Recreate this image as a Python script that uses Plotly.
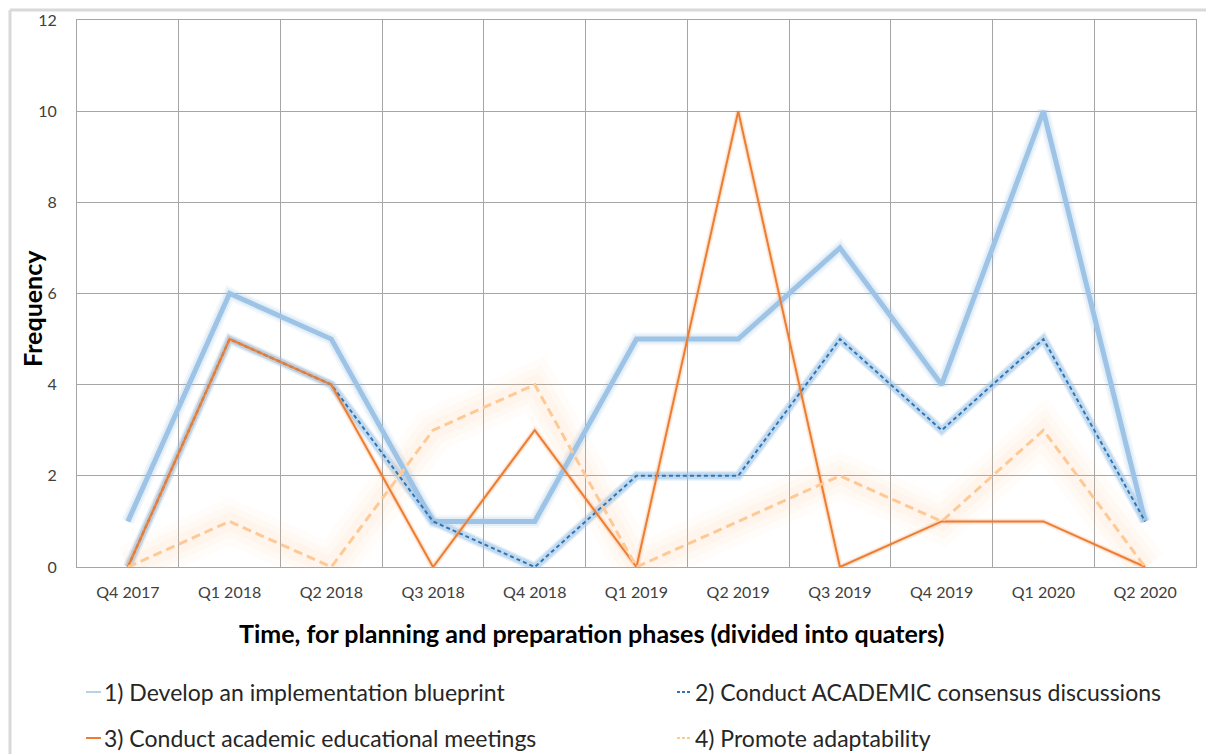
import plotly.graph_objects as go

# Quarters of the planning and preparation phases
quarters = ["Q4 2017", "Q1 2018", "Q2 2018", "Q3 2018", "Q4 2018", "Q1 2019",
            "Q2 2019", "Q3 2019", "Q4 2019", "Q1 2020", "Q2 2020"]

# Frequency of each activity per quarter
blueprint = [1, 6, 5, 1, 1, 5, 5, 7, 4, 10, 1]
consensus = [0, 5, 4, 1, 0, 2, 2, 5, 3, 5, 1]
meetings = [0, 5, 4, 0, 3, 0, 10, 0, 1, 1, 0]
adaptability = [0, 1, 0, 3, 4, 0, 1, 2, 1, 3, 0]

series_names = [
    "1) Develop an implementation blueprint",
    "2) Conduct ACADEMIC consensus discussions",
    "3) Conduct academic educational meetings",
    "4) Promote adaptability",
]
series_values = [blueprint, consensus, meetings, adaptability]

# Line styling per series: colour, width, dash, glow colour, glow layers (width, alpha)
styles = [
    dict(color="#9DC3E6", width=5, dash="solid", glow=(157, 195, 230),
         layers=[(13, 0.12), (9, 0.18)]),
    dict(color="#2E75B6", width=2, dash="4px,3px", glow=(157, 195, 230),
         layers=[(10, 0.25), (7, 0.5)]),
    dict(color="#ED7D31", width=2, dash="solid", glow=(237, 125, 49),
         layers=[(6, 0.10), (4, 0.15)]),
    dict(color="#FFC996", width=3, dash="9px,5px", glow=(251, 190, 130),
         layers=[(44, 0.04), (30, 0.05), (18, 0.06)]),
]

FONT = "Lato"
GRID = "#A6A6A6"

fig = go.Figure()

# soft glow beneath every line
for vals, st in zip(series_values, styles):
    r, g, b = st["glow"]
    for w, a in st["layers"]:
        fig.add_trace(go.Scatter(
            x=quarters, y=vals, mode="lines",
            line=dict(color=f"rgba({r},{g},{b},{a})", width=w),
            hoverinfo="skip", showlegend=False,
        ))

# the series lines themselves
for name, vals, st in zip(series_names, series_values, styles):
    fig.add_trace(go.Scatter(
        x=quarters, y=vals, mode="lines", name=name,
        line=dict(color=st["color"], width=st["width"], dash=st["dash"]),
        showlegend=False,
    ))

# plot-area geometry in pixels (used to place the legend and titles)
L, R, T, B = 77, 1196, 20, 567
W, H = R - L, B - T


def px(xp):
    return (xp - L) / W


def py(yp):
    return (B - yp) / H


annotations = [
    dict(text="<b>Time, for planning and preparation phases (divided into quaters)</b>",
         x=px(591), y=py(633), xref="paper", yref="paper", showarrow=False,
         xanchor="center", yanchor="middle",
         font=dict(family=FONT, size=25, color="#000000")),
    dict(text="<b>Frequency</b>", textangle=-90,
         x=px(32), y=py(309), xref="paper", yref="paper", showarrow=False,
         xanchor="center", yanchor="middle",
         font=dict(family=FONT, size=25, color="#000000")),
]

shapes = [
    # outer chart frame (top and left edges)
    dict(type="line", xref="paper", yref="paper", x0=px(10), x1=px(1220),
         y0=py(10), y1=py(10), line=dict(color="#D9D9D9", width=3), layer="below"),
    dict(type="line", xref="paper", yref="paper", x0=px(10), x1=px(10),
         y0=py(10), y1=py(770), line=dict(color="#D9D9D9", width=3), layer="below"),
]

# legend: two columns, two rows
legend_pos = [(86, 692), (677, 692), (86, 738), (677, 738)]
for name, st, (lx, ly) in zip(series_names, styles, legend_pos):
    shapes.append(dict(type="line", xref="paper", yref="paper",
                       x0=px(lx), x1=px(lx + 15), y0=py(ly), y1=py(ly),
                       line=dict(color=st["color"], width=min(st["width"], 2) if st["width"] < 5 else 1.5,
                                 dash="3px,2px" if st["dash"] != "solid" else "solid")))
    annotations.append(dict(text=name, x=px(lx + 16), y=py(ly), xref="paper", yref="paper",
                            showarrow=False, xanchor="left", yanchor="middle",
                            font=dict(family=FONT, size=23, color="#262626")))

fig.update_layout(
    width=1206, height=754,
    margin=dict(l=L, r=1206 - R, t=T, b=754 - B),
    paper_bgcolor="white", plot_bgcolor="white",
    font=dict(family=FONT, color="#404040"),
    showlegend=False,
    annotations=annotations,
    shapes=shapes,
)

fig.update_xaxes(
    type="category", categoryorder="array", categoryarray=quarters,
    range=[-0.5, len(quarters) - 0.5],
    tickson="boundaries", showgrid=True, gridcolor=GRID, gridwidth=1,
    showline=True, linecolor=GRID, linewidth=1, mirror=True,
    ticks="", tickfont=dict(family=FONT, size=16, color="#404040"),
    ticklabelstandoff=11, zeroline=False,
)
fig.update_yaxes(
    range=[0, 12], dtick=2, tick0=0,
    showgrid=True, gridcolor=GRID, gridwidth=1,
    showline=True, linecolor=GRID, linewidth=1, mirror=True,
    ticks="", tickfont=dict(family=FONT, size=16, color="#404040"),
    ticklabelstandoff=16, zeroline=False,
)

fig.write_html("out.html")
